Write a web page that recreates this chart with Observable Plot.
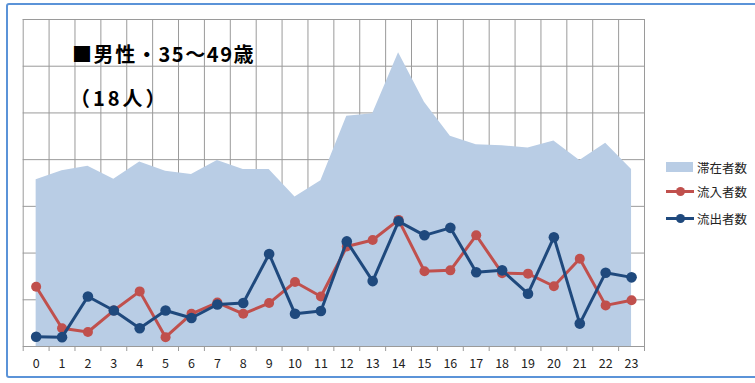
<!DOCTYPE html>
<html><head><meta charset="utf-8">
<script src="https://cdn.jsdelivr.net/npm/d3@7"></script>
<script src="https://cdn.jsdelivr.net/npm/@observablehq/plot@0.6"></script>
<style>
html,body{margin:0;padding:0;background:#fff;}
#wrap{position:relative;width:755px;height:383px;overflow:hidden;font-family:"Noto Sans CJK JP",sans-serif;}
#border{position:absolute;left:6px;top:3px;width:780px;height:375px;border:2px solid #5B93D8;border-radius:3px;box-sizing:border-box;}
.t{position:absolute;font-weight:bold;font-size:20px;letter-spacing:1.6px;color:#000;white-space:nowrap;line-height:1;}
.leg{position:absolute;left:666px;font-size:12.5px;color:#222;white-space:nowrap;}
.leg span{position:absolute;left:31px;top:-9px;}
#chart{position:absolute;left:0;top:0;}
</style></head>
<body><div id="wrap"><div id="chart"></div><div id="border"></div>
<div class="t" style="left:72px;top:44px;">■男性・35～49歳</div>
<div class="t" style="left:70px;top:88px;letter-spacing:3px;">（18人）</div>
<div id="legend"></div>
</div>
<script>
const hours = d3.range(24);
const hourLabels = hours.map(String);
const stay = [3.57,3.76,3.86,3.58,3.95,3.75,3.68,3.98,3.79,3.79,3.20,3.55,4.93,4.98,6.29,5.23,4.50,4.32,4.30,4.25,4.40,3.98,4.35,3.79];
const inflow = [1.28,0.39,0.31,0.77,1.18,0.20,0.70,0.94,0.70,0.93,1.38,1.07,2.14,2.28,2.71,1.61,1.63,2.38,1.57,1.56,1.29,1.88,0.88,0.99];
const outflow = [0.21,0.20,1.07,0.77,0.39,0.77,0.61,0.90,0.93,1.98,0.70,0.76,2.25,1.40,2.68,2.38,2.54,1.59,1.63,1.13,2.34,0.49,1.58,1.48];
const seriesNames = ["滞在者数","流入者数","流出者数"];
const colors = ["#B9CDE5","#C0504D","#1F497D"];
const yTicks = d3.range(1,8);
const boundaries = d3.range(25).map(i => i - 0.5);

const stayData = hours.map((h,i)=>({h, v: stay[i]}));
const inData = hours.map((h,i)=>({h, v: inflow[i]}));
const outData = hours.map((h,i)=>({h, v: outflow[i]}));

const plot = Plot.plot({
  width: 755, height: 383,
  marginLeft: 22.7, marginRight: 111, marginTop: 19, marginBottom: 37,
  x: {domain: [-0.5, 23.5], label: null},
  y: {domain: [0, 7], axis: null, label: null},
  style: {fontFamily: "'Noto Sans CJK JP', sans-serif", fontSize: "12px", color: "#333", background: "transparent"},
  marks: [
    Plot.ruleY(yTicks, {stroke: "#9a9a9a", strokeWidth: 1}),
    Plot.ruleX(boundaries, {y1: 0, y2: 7, stroke: "#9a9a9a", strokeWidth: 1}),
    Plot.areaY(stayData, {x: "h", y: "v", fill: colors[0], fillOpacity: 1}),
    Plot.ruleY([0], {stroke: "#9a9a9a", strokeWidth: 1.2}),
    Plot.axisX(boundaries, {tickSize: 5, tickFormat: () => "", stroke: "#9a9a9a", label: null}),
    Plot.axisX(hours, {tickSize: 0, tickPadding: 13, tickFormat: i => hourLabels[i], fill: "#222", fontSize: 12.5, label: null}),
    Plot.line(inData, {x: "h", y: "v", stroke: colors[1], strokeWidth: 3}),
    Plot.dot(inData, {x: "h", y: "v", fill: colors[1], r: 5}),
    Plot.line(outData, {x: "h", y: "v", stroke: colors[2], strokeWidth: 3}),
    Plot.dot(outData, {x: "h", y: "v", fill: colors[2], r: 5.3})
  ]
});
document.getElementById("chart").appendChild(plot);

// legend
const leg = document.getElementById("legend");
const tops = [167, 191, 218];
seriesNames.forEach((name, i) => {
  const d = document.createElement("div");
  d.className = "leg";
  d.style.top = tops[i] + "px";
  let sw;
  if (i === 0) {
    sw = `<div style="position:absolute;left:0;top:-5px;width:27px;height:10px;background:${colors[0]}"></div>`;
  } else {
    sw = `<div style="position:absolute;left:0;top:-1.5px;width:28px;height:3px;background:${colors[i]}"></div>
          <div style="position:absolute;left:9.5px;top:-4.5px;width:9px;height:9px;border-radius:50%;background:${colors[i]}"></div>`;
  }
  d.innerHTML = sw + `<span>${name}</span>`;
  leg.appendChild(d);
});
</script>
</body></html>
